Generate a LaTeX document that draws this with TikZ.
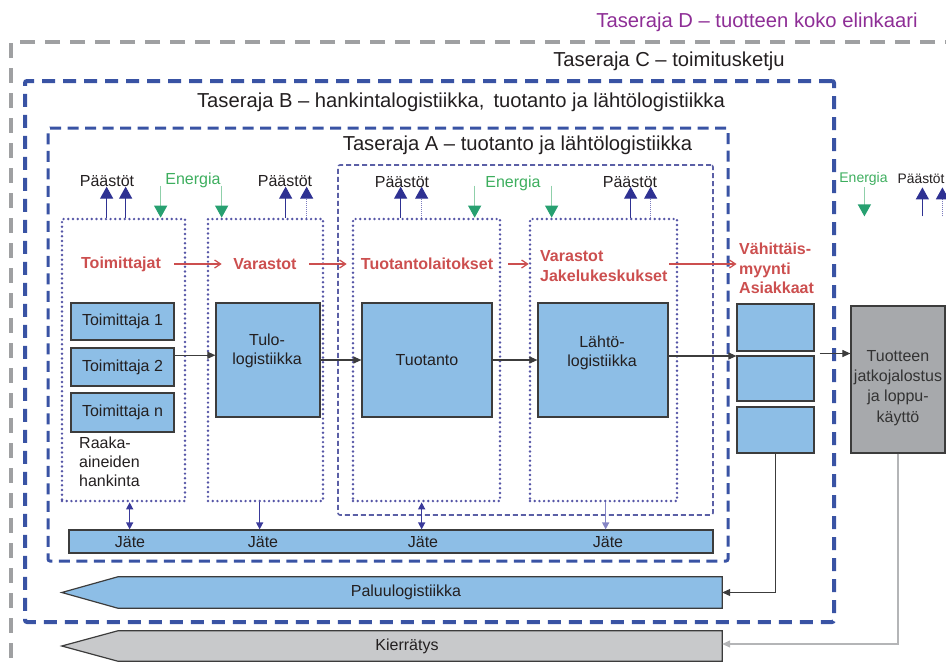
\documentclass[tikz,border=0pt]{standalone}
\usepackage{fontspec}
\setmainfont{Liberation Sans}
\usetikzlibrary{arrows.meta,calc}

\definecolor{tdpurple}{HTML}{8E2E96}
\definecolor{tdgray}{HTML}{9FA0A2}
\definecolor{tcblue}{HTML}{3953A4}
\definecolor{tablue}{HTML}{5B5FA6}
\definecolor{dotblue}{HTML}{5555A6}
\definecolor{flowred}{HTML}{CC4F4F}
\definecolor{emisnavy}{HTML}{2E3192}
\definecolor{emisline}{HTML}{7B7BBE}
\definecolor{enerhead}{HTML}{27A070}
\definecolor{enerline}{HTML}{8FD0AA}
\definecolor{enertext}{HTML}{3DAE5E}
\definecolor{boxblue}{HTML}{8DBEE6}
\definecolor{boxedge}{HTML}{3C3C3C}
\definecolor{useboxgray}{HTML}{A7A9AC}
\definecolor{recygray}{HTML}{C8C9CB}
\definecolor{inktext}{HTML}{231F20}
\definecolor{wastenavy}{HTML}{3A3A9A}
\definecolor{wastelight}{HTML}{8585C5}
\definecolor{recyline}{HTML}{B4B5B7}

\tikzset{
  txt/.style={font=\fontsize{16}{18.5}\selectfont, text=inktext, inner sep=0pt},
  smalltxt/.style={font=\fontsize{13.8}{16}\selectfont, text=inktext, inner sep=0pt},
  titletxt/.style={font=\fontsize{20.2}{23}\selectfont, text=inktext, inner sep=0pt},
  flowlbl/.style={font=\bfseries\fontsize{16}{19.5}\selectfont, text=flowred, inner sep=0pt, align=left},
  enerlbl/.style={font=\fontsize{16}{18}\selectfont, text=enertext, inner sep=0pt},
  emislbl/.style={font=\fontsize{16}{18}\selectfont, text=inktext, inner sep=0pt},
  procbox/.style={draw=boxedge, line width=1.2pt, fill=boxblue, inner sep=0pt,
    font=\fontsize{16}{18.5}\selectfont, text=inktext, align=center},
  usebox/.style={draw=boxedge, line width=1.2pt, fill=useboxgray, inner sep=0pt},
  stagebox/.style={draw=dotblue, line width=2.7pt, dash pattern=on 0pt off 4.7pt,
    line cap=round, inner sep=0pt},
  bndC/.style={draw=tcblue, line width=4pt, dash pattern=on 13pt off 8pt, inner sep=0pt, rounded corners=2pt},
  bndB/.style={draw=tcblue, line width=3pt, dash pattern=on 11pt off 6.5pt, inner sep=0pt, rounded corners=2pt},
  bndA/.style={draw=tablue, line width=1.6pt, dash pattern=on 5pt off 3pt, inner sep=0pt, rounded corners=2pt},
  bndD/.style={draw=tdgray, line width=4.5pt, dash pattern=on 15pt off 10pt},
  conn/.style={draw=boxedge, line width=1.1pt, -{Triangle[length=8pt,width=7pt]}},
  recyconn/.style={draw=recyline, line width=1.4pt, -{Triangle[length=8pt,width=7pt]}},
  redflow/.style={draw=flowred, line width=1.2pt, -{Straight Barb[length=6pt,width=8pt]}},
  emis/.style={draw=emisnavy, line width=1.3pt, -{Triangle[length=12pt,width=13pt,color=emisnavy]}},
  emisdot/.style={draw=emisline, line width=1.1pt, dash pattern=on 1pt off 1pt,
    -{Triangle[length=12pt,width=13pt,color=emisnavy]}},
  ener/.style={draw=enerline, line width=1.3pt, -{Triangle[length=12pt,width=13pt,color=enerhead]}},
  wastearr/.style={draw=wastenavy, line width=1.3pt, -{Triangle[length=7pt,width=7pt]}},
  wastedbl/.style={draw=wastenavy, line width=1.3pt, {Triangle[length=7pt,width=7pt]}-{Triangle[length=7pt,width=7pt]}},
  bandarrow/.style={draw=boxedge, line width=1.2pt},
}

\begin{document}
\begin{tikzpicture}[x=1pt,y=-1pt]
\useasboundingbox (0,0) rectangle (946,664);
\clip (0,0) rectangle (946,664);

% ---- system boundaries ----
\draw[bndD] (960,42) -- (11,42) -- (11,680);
\node[titletxt, text=tdpurple] (titleD) at (757,22) {Taseraja D – tuotteen koko elinkaari};
\node[titletxt] (titleC) at (669,61) {Taseraja C – toimitusketju};
\node[bndC, minimum width=809pt, minimum height=541pt] (bC) at (429.5,351.5) {};
\node[titletxt] (titleB) at (461,102) {Taseraja B – hankintalogistiikka,\, tuotanto ja lähtölogistiikka};
\node[bndB, minimum width=680pt, minimum height=433pt] (bB) at (388,344.5) {};
\node[titletxt] (titleA) at (517.5,145) {Taseraja A – tuotanto ja lähtölogistiikka};
\node[bndA, minimum width=375pt, minimum height=350pt] (bA) at (525.5,340) {};

% ---- chain stages ----
\node[stagebox, minimum width=123pt, minimum height=282pt] (st1) at (123.5,360) {};
\node[stagebox, minimum width=115pt, minimum height=282pt] (st2) at (265.5,360) {};
\node[stagebox, minimum width=147pt, minimum height=282pt] (st3) at (426.5,360) {};
\node[stagebox, minimum width=147pt, minimum height=282pt] (st4) at (603.5,360) {};

% ---- stage names and material flow ----
\node[flowlbl] (lblSup) at (121,264) {Toimittajat};
\node[flowlbl] (lblSto) at (265,264) {Varastot};
\node[flowlbl] (lblPlant) at (427,264) {Tuotantolaitokset};
\node[flowlbl, anchor=west] (lblDist) at (540,266) {Varastot\\Jakelukeskukset};
\node[flowlbl, anchor=west] (lblRet) at (739,268.5) {Vähittäis-\\myynti\\Asiakkaat};
\draw[redflow] ($(st1.east)+(-12,-96)$) -- ($(st2.west)+(15,-96)$);
\draw[redflow] ($(st2.east)+(-15,-96)$) -- ($(st3.west)+(-5,-96)$);
\draw[redflow] ($(st3.east)+(7,-96)$) -- ($(st4.west)+(0,-96)$);
\draw[redflow] ($(st4.east)+(-9,-96)$) -- ($(bB.east)+(7,-80.5)$);

% ---- emissions and energy ----
\node[emislbl] (em1) at (107,181) {Päästöt};
\node[emislbl] (em2) at (285,181) {Päästöt};
\node[emislbl] (em3) at (402,182) {Päästöt};
\node[emislbl] (em4) at (630,182) {Päästöt};
\node[enerlbl] (en1) at (193,180) {Energia};
\node[enerlbl] (en2) at (513,183) {Energia};

\draw[emis] ($(st1.north west)+(46,0)$) -- ++(0,-31);
\draw[emis] ($(st1.north west)+(65,0)$) -- ++(0,-31);
\draw[emis] ($(st2.north west)+(79,0)$) -- ++(0,-31);
\draw[emisdot] ($(st2.north west)+(100,0)$) -- ++(0,-31);
\draw[emis] ($(st3.north west)+(49,0)$) -- ++(0,-31);
\draw[emisdot] ($(st3.north west)+(70,0)$) -- ++(0,-31);
\draw[emis] ($(st4.north west)+(102,0)$) -- ++(0,-31);
\draw[emisdot] ($(st4.north west)+(122,0)$) -- ++(0,-31);

\draw[ener] ($(st1.north west)+(100,-32)$) -- ++(0,32);
\draw[ener] ($(st2.north west)+(15,-32)$) -- ++(0,32);
\draw[ener] ($(st3.north west)+(123,-32)$) -- ++(0,32);
\draw[ener] ($(st4.north west)+(23,-32)$) -- ++(0,32);

% ---- process boxes ----
\node[procbox, minimum width=103pt, minimum height=37pt] (sup1) at (122.5,321.5) {Toimittaja 1};
\node[procbox, minimum width=103pt, minimum height=38pt] (sup2) at (122.5,367) {Toimittaja 2};
\node[procbox, minimum width=103pt, minimum height=39pt] (supn) at (122.5,412.5) {Toimittaja n};
\node[txt, anchor=north west, align=left, font=\fontsize{16}{19}\selectfont] (raw) at (79,437)
  {Raaka-\\aineiden\\hankinta};

\node[procbox, minimum width=104pt, minimum height=114pt] (inlog) at (268,360) {};
\node[txt, align=center] (inlogT) at (267,351) {Tulo-\\logistiikka};
\node[procbox, minimum width=130pt, minimum height=114pt] (prod) at (427,360) {Tuotanto};
\node[procbox, minimum width=130pt, minimum height=114pt] (outlog) at (603,360) {};
\node[txt, align=center] (outlogT) at (602,353) {Lähtö-\\logistiikka};

\node[procbox, minimum width=77pt, minimum height=47pt] (ret1) at (775.5,327.5) {};
\node[procbox, minimum width=77pt, minimum height=45pt] (ret2) at (775.5,378.5) {};
\node[procbox, minimum width=77pt, minimum height=46pt] (ret3) at (775.5,430) {};

\node[usebox, minimum width=94pt, minimum height=147pt] (enduse) at (898,379.5) {};
\node[txt, align=center, font=\fontsize{16}{20.3}\selectfont, text=black!80] (enduseT) at (898,388)
  {Tuotteen\\jatkojalostus\\ja loppu-\\käyttö};

% ---- end use emissions and energy ----
\node[enerlbl, font=\fontsize{14}{16}\selectfont] (en3) at (863.5,179) {Energia};
\node[smalltxt, anchor=west] (em5) at (897.5,179) {Päästöt};
\draw[ener] ($(enduse.north west)+(14,-118)$) -- ++(0,29);
\draw[emis] ($(enduse.north west)+(72,-89)$) -- ++(0,-29);
\draw[emisdot] ($(enduse.north west)+(92,-89)$) -- ++(0,-29);

% ---- main flow ----
\draw[conn] ($(sup2.north east)!0.2!(sup2.south east)$) coordinate (f1) -- (f1 -| inlog.west);
\draw[conn] (inlog.east) -- (prod.west);
\draw[conn] (prod.east) -- (outlog.west);
\draw[conn] ($(outlog.east)+(0,-4)$) coordinate (f2) -- (f2 -| ret2.west);
\draw[conn] ($(ret1.south east)!0.5!(ret2.north east)+(5,0)$) coordinate (f3) -- (f3 -| enduse.west);

% ---- waste ----
\node[procbox, minimum width=644pt, minimum height=23pt] (waste) at (391,541.5) {};
\node[txt] (waste1) at (130,542) {Jäte};
\node[txt] (waste2) at (263,542) {Jäte};
\node[txt] (waste3) at (423,542) {Jäte};
\node[txt] (waste4) at (608,542) {Jäte};
\draw[wastedbl] ($(st1.south west)+(69,0)$) coordinate (w1) -- (w1 |- waste.north);
\draw[wastearr] ($(st2.south west)+(53,0)$) coordinate (w2) -- (w2 |- waste.north);
\draw[wastedbl] ($(st3.south west)+(70,0)$) coordinate (w3) -- (w3 |- waste.north);
\draw[wastearr, draw=wastelight] ($(st4.south west)+(77,0)$) coordinate (w4) -- (w4 |- waste.north);

% ---- reverse logistics and recycling ----
\node[minimum width=604pt, minimum height=31pt, inner sep=0pt] (paluu) at (420,592.5) {};
\filldraw[bandarrow, fill=boxblue] (paluu.north west) -- (paluu.north east) -- (paluu.south east)
  -- (paluu.south west) -- ($(paluu.west)+(-56,0)$) -- cycle;
\node[txt] (paluuT) at (406,592.5) {Paluulogistiikka};

\node[minimum width=604pt, minimum height=30pt, inner sep=0pt] (kier) at (420,646) {};
\filldraw[bandarrow, fill=recygray] (kier.north west) -- (kier.north east) -- (kier.south east)
  -- (kier.south west) -- ($(kier.west)+(-56,0)$) -- cycle;
\node[txt] (kierT) at (407,646.5) {Kierrätys};

\draw[conn] (ret3.south) |- (paluu.east);
\draw[recyconn] (enduse.south) |- ($(kier.east)+(0,-2)$);
\end{tikzpicture}
\end{document}
